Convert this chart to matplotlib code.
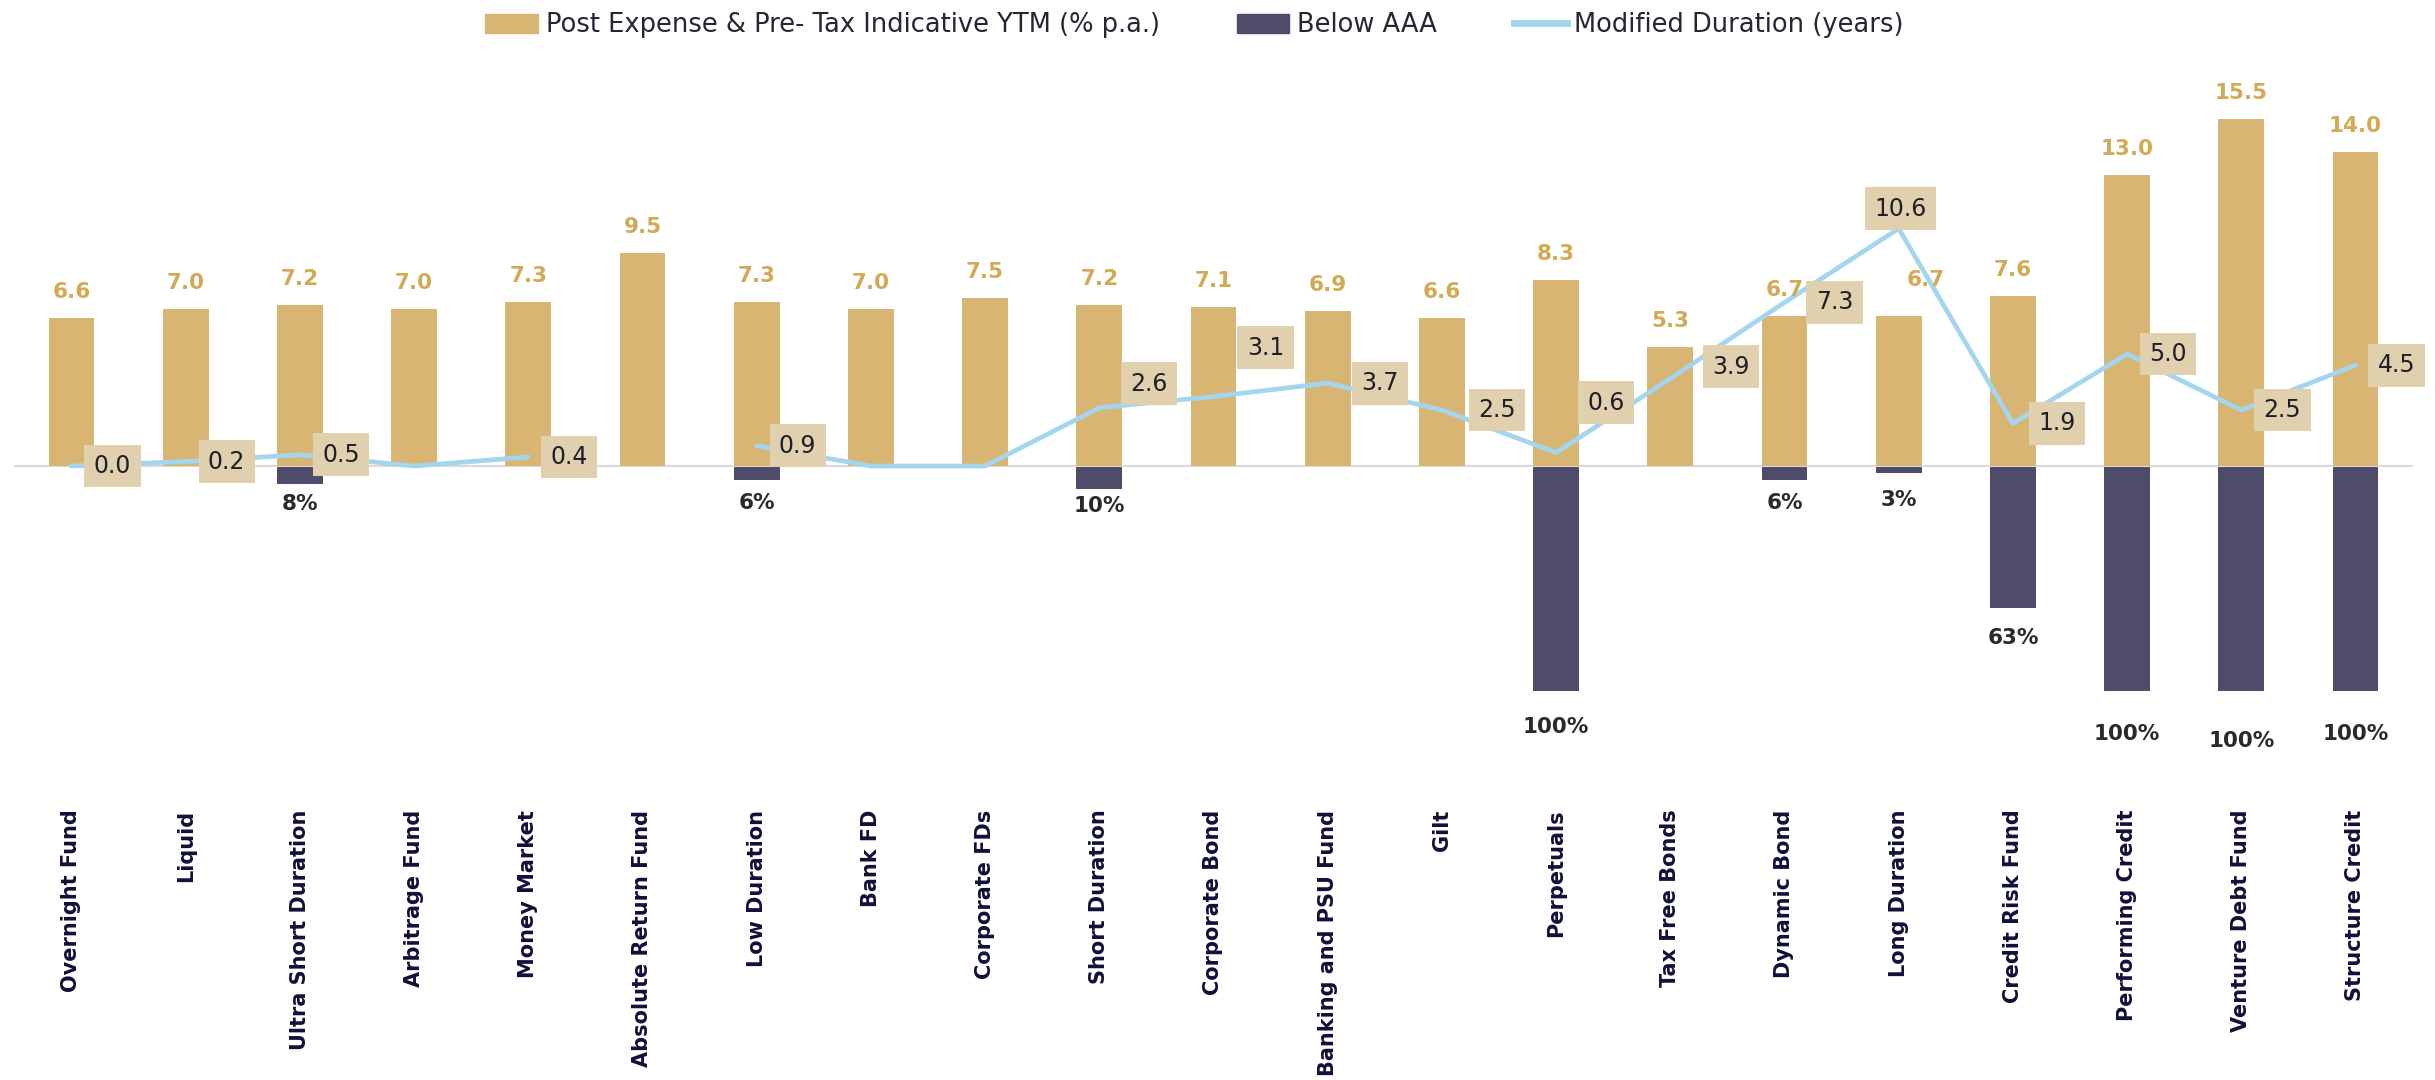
import numpy as np
import matplotlib
matplotlib.use("Agg")
import matplotlib.pyplot as plt
from matplotlib.patches import Patch
from matplotlib.lines import Line2D

# ---- data ----
categories = [
    "Overnight Fund", "Liquid", "Ultra Short Duration", "Arbitrage Fund",
    "Money Market", "Absolute Return Fund", "Low Duration", "Bank FD",
    "Corporate FDs", "Short Duration", "Corporate Bond", "Banking and PSU Fund",
    "Gilt", "Perpetuals", "Tax Free Bonds", "Dynamic Bond", "Long Duration",
    "Credit Risk Fund", "Performing Credit", "Venture Debt Fund", "Structure Credit",
]
ytm = [6.6, 7.0, 7.2, 7.0, 7.3, 9.5, 7.3, 7.0, 7.5, 7.2, 7.1,
       6.9, 6.6, 8.3, 5.3, 6.7, 6.7, 7.6, 13.0, 15.5, 14.0]
below_aaa = [0, 0, 8, 0, 0, 0, 6, 0, 0, 10, 0,
             0, 0, 100, 0, 6, 3, 63, 100, 100, 100]
duration = [0.0, 0.2, 0.5, 0.0, 0.4, np.nan, 0.9, 0.0, 0.0, 2.6, 3.1,
            3.7, 2.5, 0.6, 3.9, 7.3, 10.6, 1.9, 5.0, 2.5, 4.5]
duration_shown = [True, True, True, False, True, False, True, False, False, True, True,
                  True, True, True, True, True, True, True, True, True, True]

# ---- styling ----
GOLD = "#D8B572"
GOLD_TXT = "#D4A955"
NAVY = "#4E4B6B"
BLUE = "#A3D6EE"
BOX = "#E0D0AE"
TICK_COL = "#10103A"

# label nudges in pixels (dx, dy up)
dur_nudge = {9: (50, 24), 10: (52, 49), 11: (52, 0), 12: (55, 0), 13: (50, 50),
             14: (61, 12), 15: (50, 0), 16: (2, 20), 17: (44, 0)}
ytm_nudge = {16: (27, 36)}
pct_drop = {2: 20, 6: 23, 9: 17, 13: 36, 15: 23, 16: 27, 17: 30,
            18: 43, 19: 50, 20: 43}

fig = plt.figure(figsize=(24.35, 10.8), dpi=100)
ax = fig.add_axes([0.0059, 0.2593, 0.9849, 0.6481])
ax2 = ax.twinx()

x = np.arange(len(categories))
w = 0.40

# below AAA on the back axis (percent scale)
ax.bar(x, [-v for v in below_aaa], width=w, color=NAVY, zorder=2)
ax.set_ylim(-148.4, 162.7)
for i, v in enumerate(below_aaa):
    if v > 0:
        ax.annotate(f"{v}%", (x[i], -v), xytext=(0, -pct_drop.get(i, 22)),
                    textcoords="offset pixels", ha="center", va="center",
                    fontsize=15.5, fontweight="bold", color="#2a2a2a")

# YTM bars, duration line and labels on the front axis
ax2.set_ylim(-14.91, 16.34)
ax2.axhline(0, color="#D9D9D9", lw=1.5, zorder=1)
ax2.bar(x, ytm, width=w, color=GOLD, zorder=2)
ax2.plot(x, duration, color=BLUE, lw=3.4, zorder=3, solid_capstyle="round")

for i, v in enumerate(ytm):
    dx, dy = ytm_nudge.get(i, (0, 26))
    ax2.annotate(f"{v:.1f}", (x[i], v), xytext=(dx, dy), textcoords="offset pixels",
                 ha="center", va="center", fontsize=15.5, fontweight="bold",
                 color=GOLD_TXT, zorder=4)

for i, v in enumerate(duration):
    if not duration_shown[i]:
        continue
    dx, dy = dur_nudge.get(i, (41, 0))
    ax2.annotate(f"{v:.1f}", (x[i], v), xytext=(dx, dy), textcoords="offset pixels",
                 ha="center", va="center", fontsize=17, color="#1f1f2a", zorder=5,
                 bbox=dict(boxstyle="square,pad=0.4", fc=BOX, ec="none"))

ax.set_xlim(-0.5, len(categories) - 0.5)
ax.set_xticks(x)
ax.set_xticklabels(categories, rotation=90, fontsize=15, fontweight="bold", color=TICK_COL)
ax.tick_params(axis="x", length=0, pad=7)
ax.set_yticks([])
ax2.set_yticks([])
for a in (ax, ax2):
    for s in a.spines.values():
        s.set_visible(False)

handles = [Patch(color=GOLD), Patch(color=NAVY), Line2D([0], [0], color=BLUE, lw=5)]
labels = ["Post Expense & Pre- Tax Indicative YTM (% p.a.)", "Below AAA",
          "Modified Duration (years)"]
fig.legend(handles, labels, loc="upper center", bbox_to_anchor=(0.4906, 1.01), ncol=3,
           frameon=False, fontsize=18.5, handlelength=2.05, handleheight=0.75,
           columnspacing=3.0, handletextpad=0.3, labelcolor="#262633")

fig.savefig("out.png", dpi=100)
